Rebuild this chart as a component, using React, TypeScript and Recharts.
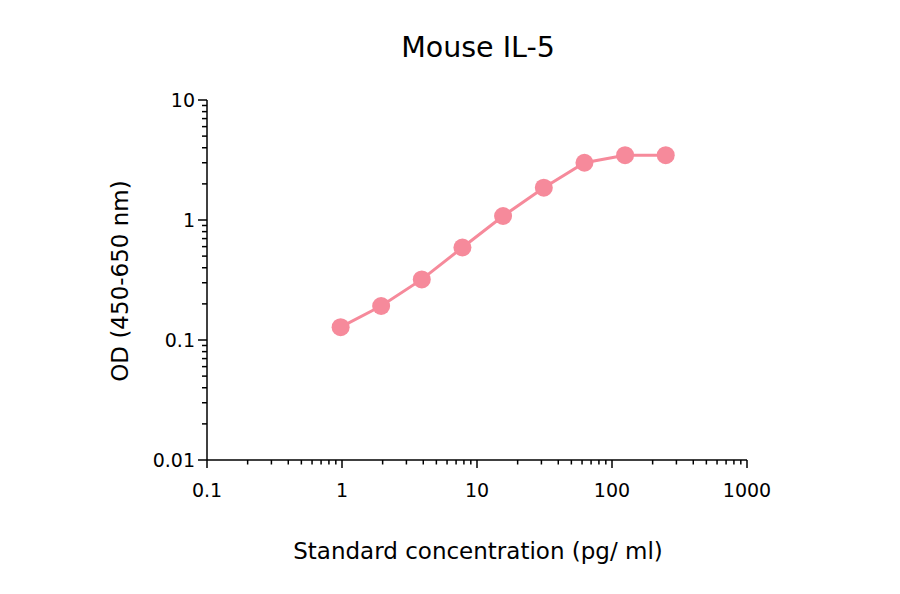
import React from "react";
import {
  LineChart, Line, XAxis, YAxis,
} from "recharts";

// standard curve, 2-fold dilutions
const concentrations = [0.977, 1.95, 3.9, 7.8, 15.6, 31.25, 62.5, 125, 250];
const odValues = [0.128, 0.192, 0.32, 0.59, 1.08, 1.86, 3.0, 3.47, 3.47];

const xMajor = [0.1, 1, 10, 100, 1000];
const xMajorLabels = ["0.1", "1", "10", "100", "1000"];
const yMajor = [0.01, 0.1, 1, 10];
const yMajorLabels = ["0.01", "0.1", "1", "10"];

const PINK = "#F68A9B";
const FONT = "'DejaVu Sans', sans-serif";

function logTicks(majors: number[]) {
  const out: number[] = [];
  for (let i = 0; i < majors.length - 1; i++) {
    for (let m = 1; m < 10; m++) out.push(majors[i] * m);
  }
  out.push(majors[majors.length - 1]);
  return out;
}

function majorIndex(v: number, majors: number[]) {
  return majors.findIndex((m) => Math.abs(v / m - 1) < 1e-6);
}

const data = concentrations.map((c, i) => ({ conc: c, od: odValues[i] }));

function XTick(props: any) {
  const { x, y, payload } = props;
  const idx = majorIndex(payload.value, xMajor);
  const len = idx >= 0 ? 8 : 4.5;
  return (
    <g>
      <line x1={x} y1={y} x2={x} y2={y + len} stroke="#000" strokeWidth={1.5} />
      {idx >= 0 && (
        <text x={x} y={y + 37} textAnchor="middle" fontSize={19} fontFamily={FONT} fill="#000">
          {xMajorLabels[idx]}
        </text>
      )}
    </g>
  );
}

function YTick(props: any) {
  const { x, y, payload } = props;
  const idx = majorIndex(payload.value, yMajor);
  const len = idx >= 0 ? 9 : 5;
  return (
    <g>
      <line x1={x} y1={y} x2={x - len} y2={y} stroke="#000" strokeWidth={1.5} />
      {idx >= 0 && (
        <text x={x - 12} y={y + 7} textAnchor="end" fontSize={19} fontFamily={FONT} fill="#000">
          {yMajorLabels[idx]}
        </text>
      )}
    </g>
  );
}

export default function App() {
  return (
    <div style={{ position: "absolute", left: 0, top: 0, width: 900, height: 594, background: "#fff", fontFamily: FONT }}>
      <svg width={900} height={594} style={{ position: "absolute", left: 0, top: 0 }}>
        <text x={478} y={57} textAnchor="middle" fontSize={28.5} fontFamily={FONT} fill="#000">
          Mouse IL-5
        </text>
        <text x={478} y={559} textAnchor="middle" fontSize={23} fontFamily={FONT} fill="#000">
          Standard concentration (pg/ ml)
        </text>
        <text
          x={0}
          y={0}
          transform="translate(128 281) rotate(-90)"
          textAnchor="middle"
          fontSize={23}
          fontFamily={FONT}
          fill="#000"
        >
          OD (450-650 nm)
        </text>
      </svg>
      <div style={{ position: "absolute", left: 0, top: 0 }}>
        <LineChart width={900} height={594} data={data} margin={{ top: 100, right: 153, bottom: 94, left: 147 }}>
          <XAxis
            dataKey="conc"
            type="number"
            scale="log"
            domain={[0.1, 1000]}
            ticks={logTicks(xMajor)}
            interval={0}
            allowDataOverflow
            height={40}
            tickSize={0}
            tickMargin={0}
            tickLine={false}
            axisLine={{ stroke: "#000", strokeWidth: 1.5 }}
            tick={<XTick />}
          />
          <YAxis
            dataKey="od"
            type="number"
            scale="log"
            domain={[0.01, 10]}
            ticks={logTicks(yMajor)}
            interval={0}
            allowDataOverflow
            width={60}
            tickSize={0}
            tickMargin={0}
            tickLine={false}
            axisLine={{ stroke: "#000", strokeWidth: 1.5 }}
            tick={<YTick />}
          />
          <Line
            dataKey="od"
            stroke={PINK}
            strokeWidth={3}
            dot={{ r: 9, fill: PINK, stroke: PINK, strokeWidth: 0 }}
            activeDot={false}
            isAnimationActive={false}
          />
        </LineChart>
      </div>
    </div>
  );
}
